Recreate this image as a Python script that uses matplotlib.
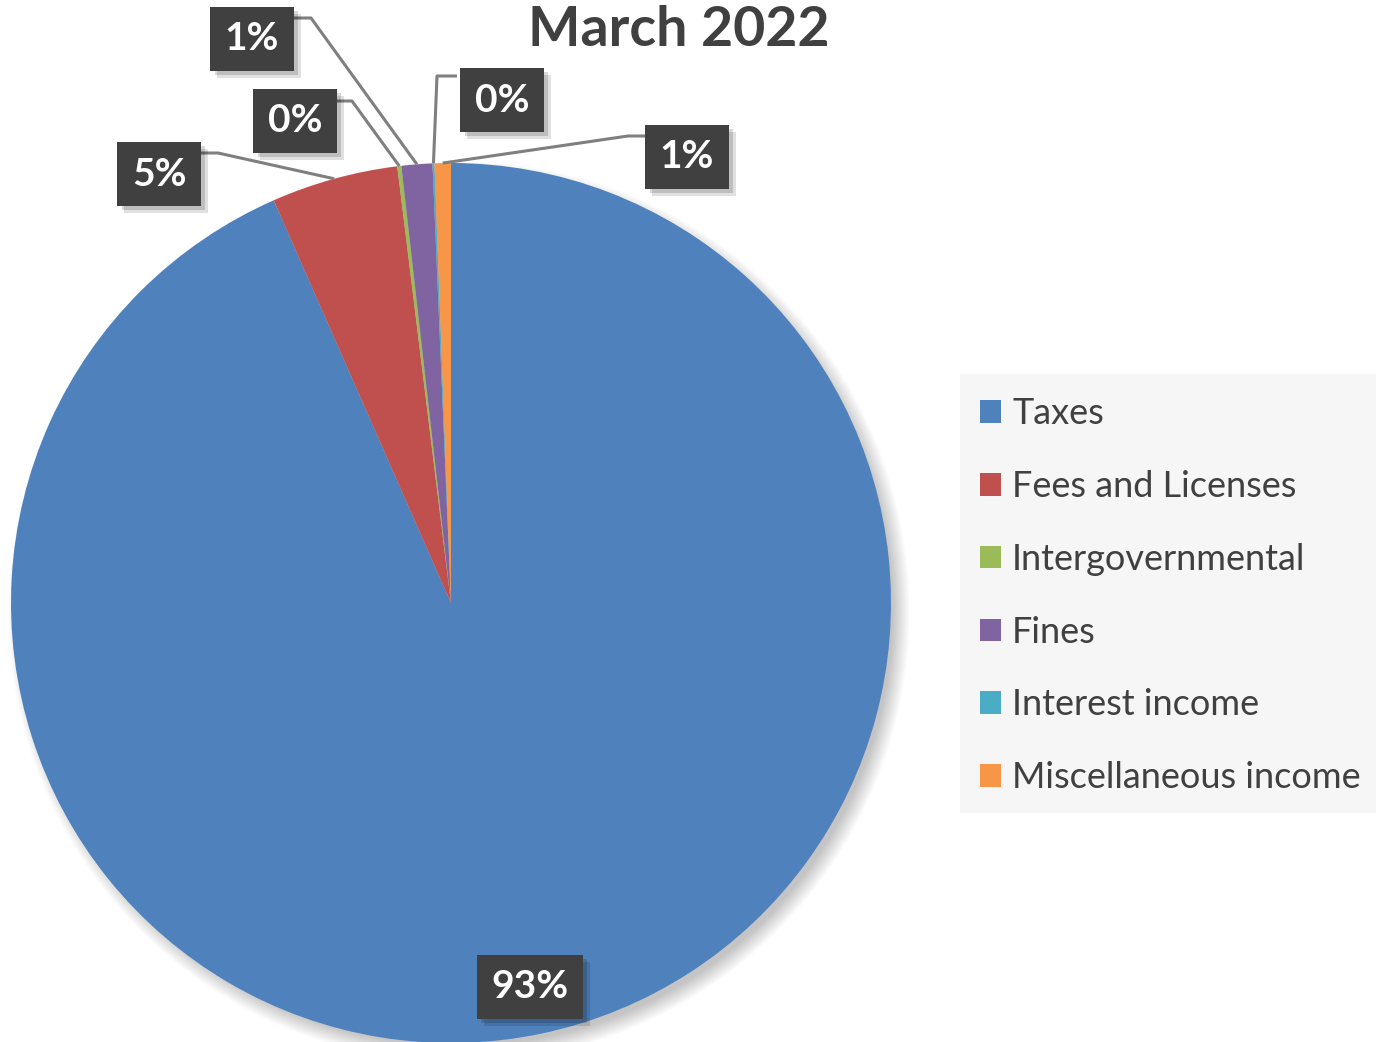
import matplotlib
matplotlib.use('Agg')
import matplotlib.pyplot as plt
import matplotlib.patheffects as pe
from matplotlib.patches import Circle, Rectangle
import numpy as np

plt.rcParams['font.family'] = ['Lato', 'DejaVu Sans']

# data
categories = ['Taxes', 'Fees and Licenses', 'Intergovernmental', 'Fines',
              'Interest income', 'Miscellaneous income']
shares = [93.4, 4.65, 0.15, 1.13, 0.07, 0.6]
colors = ['#4F81BD', '#C0504D', '#9BBB59', '#8064A2', '#4BACC6', '#F79646']
title = 'March 2022'

W, H = 1376, 1042
TXT = '#404040'

def py(y):
    # pixel row (from top) -> axes y
    return H - y

fig = plt.figure(figsize=(W / 100, H / 100), dpi=100)
ax = fig.add_axes([0, 0, 1, 1])

cx, cy, R = 451, py(603), 440

# soft shadow behind the pie, mostly bottom right
for k in range(12):
    ax.add_patch(Circle((cx + 8, cy - 9), R - 6 + k * 1.5, color='black',
                        alpha=0.02, lw=0, zorder=0))

wedges, _ = ax.pie(shares, colors=colors, startangle=90, counterclock=False,
                   radius=R, center=(cx, cy), frame=True,
                   wedgeprops=dict(linewidth=0))
ax.set_xlim(0, W)
ax.set_ylim(0, H)
ax.set_aspect('equal')
ax.axis('off')

# label boxes (centre, pixel coords) and leader line elbows
label_pos = [(530, 987), (159, 174), (295, 121), (252, 39), (502, 100), (687, 157)]
elbows = [None,
          [(198, 153), (218, 153)],
          [(334, 101), (352, 101)],
          [(291, 18), (311, 18)],
          [(457, 76), (437, 76)],
          [(647, 136), (628, 136)]]

for w, val, (lx, ly), elb in zip(wedges, shares, label_pos, elbows):
    if elb is not None:
        mid = np.deg2rad((w.theta1 + w.theta2) / 2)
        ex, ey = cx + R * np.cos(mid), cy + R * np.sin(mid)
        xs = [p[0] for p in elb] + [ex]
        ys = [py(p[1]) for p in elb] + [ey]
        ax.plot(xs, ys, color='#7F7F7F', lw=2.2, zorder=3, solid_capstyle='butt')
    t = ax.text(lx, py(ly), '%d%%' % round(val), ha='center', va='center',
                color='white', fontsize=28, fontweight='bold', zorder=5,
                bbox=dict(boxstyle='square,pad=0.37', facecolor='#404040',
                          edgecolor='none', linewidth=0))
    t.get_bbox_patch().set_path_effects(
        [pe.SimplePatchShadow(offset=(5, -5), shadow_rgbFace='#000000', alpha=0.12),
         pe.SimplePatchShadow(offset=(3, -3), shadow_rgbFace='#000000', alpha=0.15),
         pe.Normal()])

ax.text(679, py(30), title, ha='center', va='center', fontsize=40,
        fontweight='bold', color=TXT)

# legend
ax.add_patch(Rectangle((960, py(813)), W - 960, 813 - 374, facecolor='#F6F6F6',
                       edgecolor='none', zorder=1))
leg = ax.legend(wedges, categories, loc='upper left',
                bbox_to_anchor=(966 / W, 1 - 383 / H), frameon=False,
                fontsize=26, handlelength=0.58, handleheight=0.58,
                handletextpad=0.3, labelspacing=1.10, borderaxespad=0)
for txt in leg.get_texts():
    txt.set_color(TXT)

fig.savefig('out.png', dpi=100)
